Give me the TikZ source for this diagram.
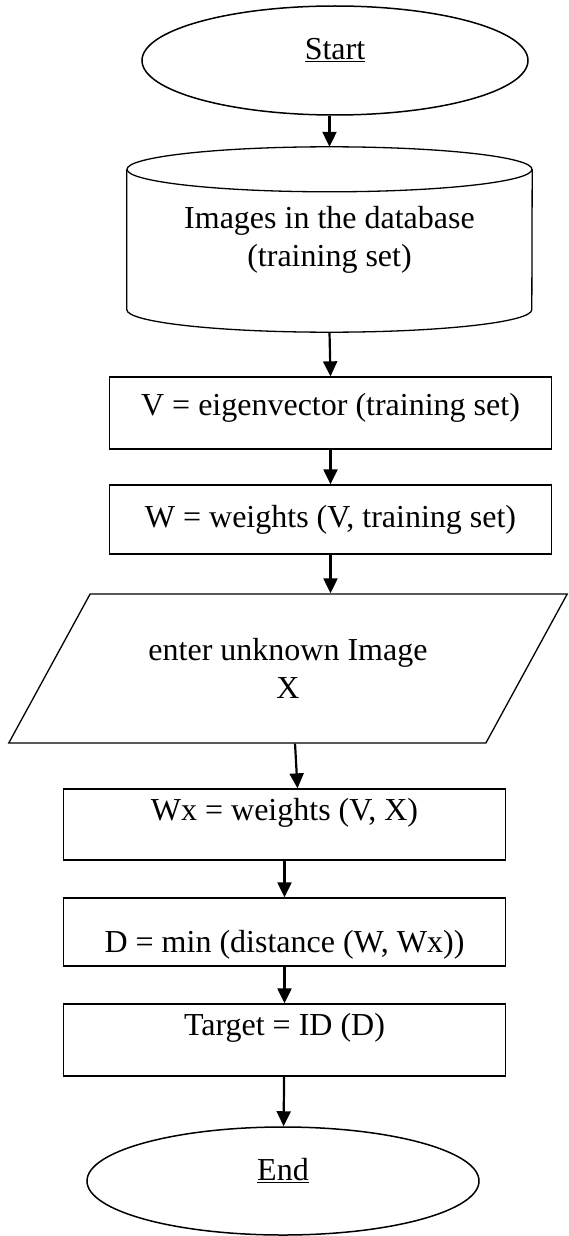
\documentclass[tikz,border=0pt]{standalone}
\usepackage{fontspec}
\setmainfont{Liberation Serif}
\usetikzlibrary{shapes.geometric,arrows.meta}

\begin{document}
\begin{tikzpicture}[x=1pt,y=1pt,
		font=\fontsize{32}{38}\selectfont,
		term/.style={draw, ellipse, line width=1.5pt, inner sep=0pt, text height=22pt, text depth=24pt},
		box/.style={draw, rectangle, line width=1.3pt, inner sep=0pt, minimum width=442pt},
		io/.style={draw, trapezium, trapezium left angle=46.4, trapezium right angle=133.6,
			trapezium stretches=true, line width=1.3pt, inner sep=0pt,
			minimum width=560pt, minimum height=149pt, align=center},
		flow/.style={-{Triangle[length=15pt,width=14pt]}, line width=2.2pt}]
	\useasboundingbox (0,0) rectangle (569,-1236);
	% terminals
	\node[term, minimum width=386pt, minimum height=109pt] (start) at (335,-60.5) {\underline{Start}};
	\node[term, minimum width=392pt, minimum height=108pt] (finish) at (283,-1181) {\underline{End}};
	% database drum
	\node[minimum width=405pt, minimum height=185pt, inner sep=0pt, align=center] (db) at (329.5,-239.5)
		{Images in the database\\(training set)};
	\draw[line width=1.3pt] ([yshift=-22.5pt]db.north) ellipse [x radius=202.5pt, y radius=22.5pt];
	\draw[line width=1.3pt] 
		([yshift=-22.5pt]db.north west) 
		-- ([yshift=22.5pt]db.south west) 
		arc [start angle=180, end angle=360, x radius=202.5pt, y radius=22.5pt] 
		-- ([yshift=-22.5pt]db.north east);
	% steps
	\node[box, text height=38pt, text depth=34pt] (eig) at (330.5,-413) {V = eigenvector (training set)};
	\node[box, text height=42pt, text depth=27pt] (wts) at (330.5,-519.5) {W = weights (V, training set)};
	\node[io] (inp) at (288,-668.5) {enter unknown Image\\X};
	\node[box, text height=31pt, text depth=40pt] (wx) at (284.5,-824.5) {Wx = weights (V, X)};
	\node[box, text height=54pt, text depth=14pt] (dist) at (284.5,-932) {D = min (distance (W, Wx))};
	\node[box, text height=31pt, text depth=41pt] (target) at (284.5,-1040) {Target = ID (D)};
	% arrows
	\draw[flow] (start.south -| db.north) -- (db.north);
	\draw[flow] (db.south) -- (eig.north);
	\draw[flow] (eig) -- (wts);
	\draw[flow] (wts.south) -- (wts.south |- inp.north);
	\draw[flow] ([xshift=7pt]inp.south) -- ([xshift=13pt]wx.north);
	\draw[flow] (wx) -- (dist);
	\draw[flow] (dist) -- (target);
	\draw[flow] (target) -- (finish);
\end{tikzpicture}
\end{document}
